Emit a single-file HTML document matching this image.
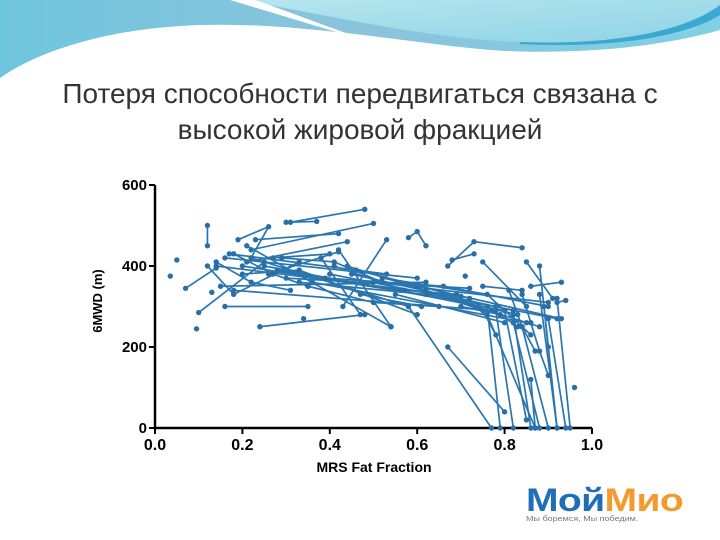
<!DOCTYPE html>
<html><head><meta charset="utf-8"><style>
html,body{margin:0;padding:0;background:#fff;}
body{width:720px;height:540px;position:relative;overflow:hidden;font-family:"Liberation Sans","Noto Sans CJK SC",sans-serif;}
.title{position:absolute;left:0;width:720px;text-align:center;color:#333;font-size:28px;line-height:36px;top:76px;}
</style></head><body>
<svg width="720" height="90" style="position:absolute;left:0;top:0">
<defs><linearGradient id="g1" x1="0" y1="0" x2="1" y2="0"><stop offset="0" stop-color="#6ec6de"/><stop offset="0.5" stop-color="#8bc3dc"/><stop offset="1" stop-color="#7fd0e4"/></linearGradient>
<linearGradient id="g2" x1="0" y1="0" x2="1" y2="1"><stop offset="0" stop-color="#b5e6ee"/><stop offset="1" stop-color="#8fd3e6"/></linearGradient></defs>
<path d="M0 0H720V30C650 50 560 55 490 50C400 42 300 22 200 25C110 28 40 50 0 78Z" fill="url(#g1)"/>
<path d="M240 0H720V10C700 40 620 45 520 42C420 38 330 15 240 0Z" fill="url(#g2)"/>
<path d="M230 0C280 15 330 30 370 42L378 44C330 28 290 12 255 0Z" fill="#fff"/>
<path d="M520 42C600 45 680 35 720 5V15C680 40 600 48 520 44Z" fill="#3aa8d0"/>
</svg>
<div class="title">Потеря способности передвигаться связана с<br>высокой жировой фракцией</div>
<svg id="chart" width="720" height="540" style="position:absolute;left:0;top:0"></svg>
<div style="position:absolute;left:526px;top:484px;width:160px;">
<div style="font-weight:bold;font-size:32px;line-height:32px;transform:scaleX(1.22);transform-origin:left;letter-spacing:-0.5px;"><span style="color:#1f6fb6">Мой</span><span style="color:#f29a2e">Мио</span></div>
<div style="font-size:7.5px;color:#777;margin-top:-2px;transform:scaleX(1.2);transform-origin:left;">Мы боремся, Мы победим.</div>
</div>
<script>
const xTicks=[0,0.2,0.4,0.6,0.8,1.0];
const xTickLabels=["0.0","0.2","0.4","0.6","0.8","1.0"];
const yTicks=[0,200,400,600];
const yTickLabels=["0","200","400","600"];
const trajX=[[0.31,0.48],[0.30,0.37],[0.12,0.12],[0.19,0.26,0.22],[0.23,0.42],[0.22,0.50],[0.27,0.40],[0.21,0.44],[0.26,0.42],[0.17,0.53],[0.16,0.60],[0.14,0.70],[0.15,0.62],[0.18,0.77],[0.22,0.58],[0.21,0.54],[0.20,0.78],[0.25,0.80],[0.30,0.72],[0.24,0.48],[0.16,0.35],[0.10,0.25],[0.07,0.14],[0.36,0.85],[0.40,0.92],[0.44,0.88],[0.45,0.82],[0.50,0.90],[0.60,0.93],[0.55,0.80],[0.58,0.77],[0.67,0.73,0.84],[0.68,0.73],[0.75,0.85],[0.75,0.84],[0.67,0.80],[0.76,0.79],[0.76,0.87],[0.78,0.82],[0.80,0.85],[0.82,0.86],[0.82,0.88],[0.84,0.90],[0.85,0.91],[0.88,0.90],[0.86,0.87],[0.88,0.92],[0.90,0.94],[0.92,0.95],[0.89,0.92],[0.86,0.93],[0.92,0.94],[0.58,0.60,0.62],[0.42,0.54],[0.38,0.47],[0.43,0.53],[0.035],[0.05],[0.095],[0.96],[0.34],[0.71],[0.13],[0.12,0.18,0.33],[0.2,0.33,0.6],[0.28,0.56,0.74],[0.33,0.62,0.83],[0.39,0.66,0.90],[0.46,0.72],[0.52,0.76,0.86],[0.29,0.41,0.52],[0.18,0.27,0.35],[0.41,0.57,0.69],[0.14,0.22,0.31],[0.35,0.50,0.65],[0.47,0.61],[0.62,0.75,0.78],[0.70,0.79,0.83],[0.81,0.84,0.87],[0.84,0.86,0.88,0.90]];
const trajY=[[508,540],[508,510],[500,450],[465,497,420],[465,480],[440,505],[420,430],[410,460],[380,435],[430,380],[420,370],[400,325],[350,360],[340,290],[420,300],[450,250],[400,300],[400,290],[370,345],[250,280],[300,300],[285,410],[345,395],[360,260],[380,270],[400,250],[380,290],[360,310],[350,270],[330,260],[300,0],[400,460,445],[415,430],[410,300],[350,340],[200,40],[300,0],[280,0],[290,0],[290,20],[280,0],[260,0],[250,0],[410,320],[400,200],[120,0],[330,0],[270,0],[320,0],[300,0],[350,360],[310,315],[470,485,450],[440,250],[420,280],[300,465],[375],[415],[245],[100],[270],[375],[335],[400,330,410],[380,390,280],[390,340,300],[360,330,280],[370,350,300],[390,320],[370,330,230],[420,410,360],[430,380,350],[400,340,330],[410,360,340],[350,310,300],[330,300],[340,290,230],[300,280,250],[340,250,190],[330,260,190,130]];
const svg=document.getElementById('chart');const NS='http://www.w3.org/2000/svg';
const X0=155,X1=592,Y0=428,Y1=185;
function sx(v){return X0+(X1-X0)*v;}
function sy(v){return Y0-(Y0-Y1)*v/600;}
function mk(t,a){const e=document.createElementNS(NS,t);for(const k in a)e.setAttribute(k,a[k]);svg.appendChild(e);return e;}
let ax=mk('line',{x1:X0,y1:Y0,x2:X1,y2:Y0,stroke:'#000','stroke-width':2.5});


let ay=mk('line',{x1:X0,y1:Y0,x2:X0,y2:Y1,stroke:'#000','stroke-width':2.5});


xTicks.forEach((v,i)=>{mk('line',{x1:sx(v),y1:Y0,x2:sx(v),y2:Y0+6,stroke:'#000','stroke-width':2});
const t=mk('text',{x:sx(v),y:Y0+22,'text-anchor':'middle','font-size':16,'font-weight':'bold','font-family':'Liberation Sans'});t.textContent=xTickLabels[i];

});
yTicks.forEach((v,i)=>{mk('line',{x1:X0-6,y1:sy(v),x2:X0,y2:sy(v),stroke:'#000','stroke-width':2});
const t=mk('text',{x:X0-8,y:sy(v)+5,'text-anchor':'end','font-size':15,'font-weight':'bold','font-family':'Liberation Sans'});t.textContent=yTickLabels[i];

});
let xl=mk('text',{x:374,y:472,'text-anchor':'middle','font-size':14,'font-weight':'bold','font-family':'Liberation Sans'});xl.textContent='MRS Fat Fraction';


let yl=mk('text',{x:102,y:301,'text-anchor':'middle','font-size':13,'font-weight':'bold','font-family':'Liberation Sans',transform:'rotate(-90 102 301)'});yl.textContent='6MWD (m)';


trajX.forEach((xs,i)=>{const ys=trajY[i];
if(xs.length>1){const p=mk('polyline',{points:xs.map((x,j)=>sx(x)+','+sy(ys[j])).join(' '),fill:'none',stroke:'#2a76b0','stroke-width':1.7});

}
xs.forEach((x,j)=>{const c=mk('circle',{cx:sx(x),cy:sy(ys[j]),r:2.7,fill:'#2a6ea6'});

});});
</script>
</body></html>
